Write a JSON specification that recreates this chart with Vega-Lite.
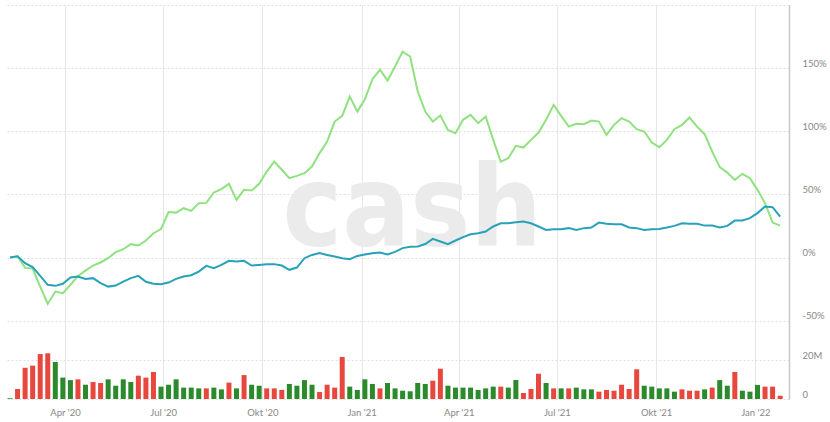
{
  "$schema": "https://vega.github.io/schema/vega-lite/v6.json",
  "width": 784,
  "height": 394,
  "autosize": {"type": "none"},
  "padding": {"left": 5, "top": 5, "right": 41, "bottom": 23},
  "background": "#ffffff",
  "data": {
    "values": [
      {"d": "2020-02-10", "g": 0, "t": 0, "v": 0.4, "dir": "up"},
      {"d": "2020-02-17", "g": 1, "t": 1, "v": 5.2, "dir": "down"},
      {"d": "2020-02-24", "g": -8.2, "t": -4.5, "v": 16.2, "dir": "down"},
      {"d": "2020-03-02", "g": -8.7, "t": -7.6, "v": 17.3, "dir": "down"},
      {"d": "2020-03-09", "g": -23, "t": -14.5, "v": 23.3, "dir": "down"},
      {"d": "2020-03-16", "g": -36.7, "t": -21.6, "v": 23.7, "dir": "down"},
      {"d": "2020-03-23", "g": -26.9, "t": -22.4, "v": 19.2, "dir": "up"},
      {"d": "2020-03-30", "g": -28.2, "t": -20.8, "v": 11.1, "dir": "up"},
      {"d": "2020-04-06", "g": -21.6, "t": -15.8, "v": 9.8, "dir": "up"},
      {"d": "2020-04-13", "g": -14.5, "t": -15, "v": 10.2, "dir": "down"},
      {"d": "2020-04-20", "g": -10.3, "t": -16.9, "v": 7.4, "dir": "up"},
      {"d": "2020-04-27", "g": -6.3, "t": -16.3, "v": 8.8, "dir": "down"},
      {"d": "2020-05-04", "g": -3.9, "t": -20.3, "v": 8.3, "dir": "down"},
      {"d": "2020-05-11", "g": -0.5, "t": -23, "v": 10.2, "dir": "up"},
      {"d": "2020-05-18", "g": 4.3, "t": -22.2, "v": 6.9, "dir": "up"},
      {"d": "2020-05-25", "g": 6.6, "t": -19, "v": 10.2, "dir": "up"},
      {"d": "2020-06-01", "g": 10.6, "t": -16.3, "v": 8.8, "dir": "up"},
      {"d": "2020-06-08", "g": 9.5, "t": -14.5, "v": 12.1, "dir": "down"},
      {"d": "2020-06-15", "g": 13.5, "t": -19.2, "v": 11.1, "dir": "down"},
      {"d": "2020-06-22", "g": 19.3, "t": -20.8, "v": 14, "dir": "down"},
      {"d": "2020-06-29", "g": 22.5, "t": -21.1, "v": 6.4, "dir": "up"},
      {"d": "2020-07-06", "g": 36, "t": -19.8, "v": 7.4, "dir": "up"},
      {"d": "2020-07-13", "g": 35.6, "t": -16.9, "v": 10.2, "dir": "up"},
      {"d": "2020-07-20", "g": 39.1, "t": -15, "v": 5.9, "dir": "up"},
      {"d": "2020-07-27", "g": 37, "t": -14, "v": 5.9, "dir": "up"},
      {"d": "2020-08-03", "g": 43.1, "t": -11.1, "v": 5.5, "dir": "up"},
      {"d": "2020-08-10", "g": 43.3, "t": -6.6, "v": 5.5, "dir": "down"},
      {"d": "2020-08-17", "g": 51.5, "t": -8.4, "v": 5.9, "dir": "up"},
      {"d": "2020-08-24", "g": 54.2, "t": -5.8, "v": 5, "dir": "up"},
      {"d": "2020-08-31", "g": 58.4, "t": -2.6, "v": 8.5, "dir": "down"},
      {"d": "2020-09-07", "g": 45.7, "t": -3.2, "v": 5.5, "dir": "up"},
      {"d": "2020-09-14", "g": 53.6, "t": -2.6, "v": 12.4, "dir": "down"},
      {"d": "2020-09-21", "g": 53.1, "t": -6.3, "v": 7.4, "dir": "up"},
      {"d": "2020-09-28", "g": 58.4, "t": -5.8, "v": 6.9, "dir": "up"},
      {"d": "2020-10-05", "g": 68.1, "t": -5.2, "v": 5.5, "dir": "down"},
      {"d": "2020-10-12", "g": 76, "t": -5.2, "v": 5.5, "dir": "down"},
      {"d": "2020-10-19", "g": 69.5, "t": -6.3, "v": 4.7, "dir": "down"},
      {"d": "2020-10-26", "g": 62.9, "t": -9.7, "v": 7.8, "dir": "up"},
      {"d": "2020-11-02", "g": 64.7, "t": -7.9, "v": 6.9, "dir": "up"},
      {"d": "2020-11-09", "g": 66.8, "t": -0.5, "v": 9.8, "dir": "up"},
      {"d": "2020-11-16", "g": 72.1, "t": 2.1, "v": 7.4, "dir": "up"},
      {"d": "2020-11-23", "g": 82.7, "t": 3.5, "v": 3.6, "dir": "down"},
      {"d": "2020-11-30", "g": 91.9, "t": 2.1, "v": 7.4, "dir": "down"},
      {"d": "2020-12-07", "g": 107.7, "t": 0.8, "v": 5.9, "dir": "down"},
      {"d": "2020-12-14", "g": 112.2, "t": -0.5, "v": 21.8, "dir": "down"},
      {"d": "2020-12-21", "g": 127.5, "t": -1.3, "v": 6.4, "dir": "up"},
      {"d": "2020-12-28", "g": 115.6, "t": 1.3, "v": 4.7, "dir": "up"},
      {"d": "2021-01-04", "g": 125.4, "t": 2.4, "v": 10.2, "dir": "up"},
      {"d": "2021-01-11", "g": 141.3, "t": 3.5, "v": 7.8, "dir": "up"},
      {"d": "2021-01-18", "g": 148.7, "t": 4, "v": 5.5, "dir": "down"},
      {"d": "2021-01-25", "g": 140.2, "t": 2.5, "v": 8.3, "dir": "up"},
      {"d": "2021-02-01", "g": 151.3, "t": 4.5, "v": 5.5, "dir": "up"},
      {"d": "2021-02-08", "g": 163.1, "t": 7.5, "v": 4.3, "dir": "up"},
      {"d": "2021-02-15", "g": 159.2, "t": 8.5, "v": 4, "dir": "up"},
      {"d": "2021-02-22", "g": 131.5, "t": 8.8, "v": 8.3, "dir": "up"},
      {"d": "2021-03-01", "g": 115.6, "t": 10.7, "v": 7.8, "dir": "up"},
      {"d": "2021-03-08", "g": 107.7, "t": 14.8, "v": 9.5, "dir": "down"},
      {"d": "2021-03-15", "g": 112.5, "t": 12.7, "v": 15.7, "dir": "down"},
      {"d": "2021-03-22", "g": 101.1, "t": 10.6, "v": 6.9, "dir": "up"},
      {"d": "2021-03-29", "g": 98.5, "t": 13.5, "v": 5.9, "dir": "up"},
      {"d": "2021-04-05", "g": 109.1, "t": 16.2, "v": 5.9, "dir": "up"},
      {"d": "2021-04-12", "g": 113, "t": 18.5, "v": 5.9, "dir": "up"},
      {"d": "2021-04-19", "g": 106.4, "t": 19.3, "v": 4.7, "dir": "up"},
      {"d": "2021-04-26", "g": 111.7, "t": 20.6, "v": 5.5, "dir": "up"},
      {"d": "2021-05-03", "g": 93.2, "t": 24.6, "v": 6.4, "dir": "up"},
      {"d": "2021-05-10", "g": 76, "t": 27.2, "v": 6.4, "dir": "down"},
      {"d": "2021-05-17", "g": 78.7, "t": 27.2, "v": 5.9, "dir": "up"},
      {"d": "2021-05-24", "g": 88.5, "t": 28, "v": 9.8, "dir": "up"},
      {"d": "2021-05-31", "g": 87.1, "t": 28.5, "v": 3.1, "dir": "down"},
      {"d": "2021-06-07", "g": 93.2, "t": 27.2, "v": 5.2, "dir": "down"},
      {"d": "2021-06-14", "g": 99, "t": 24.6, "v": 13.1, "dir": "down"},
      {"d": "2021-06-21", "g": 109.1, "t": 21.9, "v": 8.3, "dir": "up"},
      {"d": "2021-06-28", "g": 120.9, "t": 22.5, "v": 5.5, "dir": "down"},
      {"d": "2021-07-05", "g": 112.2, "t": 22.5, "v": 5.5, "dir": "up"},
      {"d": "2021-07-12", "g": 103.7, "t": 23.3, "v": 5.5, "dir": "down"},
      {"d": "2021-07-19", "g": 105.9, "t": 21.9, "v": 5.9, "dir": "up"},
      {"d": "2021-07-26", "g": 105.6, "t": 23.3, "v": 5, "dir": "up"},
      {"d": "2021-08-02", "g": 108.5, "t": 23.8, "v": 5, "dir": "up"},
      {"d": "2021-08-09", "g": 107.7, "t": 27.7, "v": 3.8, "dir": "down"},
      {"d": "2021-08-16", "g": 97.2, "t": 26.7, "v": 4.7, "dir": "down"},
      {"d": "2021-08-23", "g": 105.1, "t": 26.4, "v": 4.3, "dir": "down"},
      {"d": "2021-08-30", "g": 110.4, "t": 26.4, "v": 7.4, "dir": "down"},
      {"d": "2021-09-06", "g": 107.7, "t": 23.8, "v": 5.2, "dir": "down"},
      {"d": "2021-09-13", "g": 101.7, "t": 23.3, "v": 15.4, "dir": "down"},
      {"d": "2021-09-20", "g": 99.8, "t": 21.9, "v": 6.9, "dir": "up"},
      {"d": "2021-09-27", "g": 91.1, "t": 22.5, "v": 6.4, "dir": "up"},
      {"d": "2021-10-04", "g": 87.4, "t": 22.7, "v": 5.5, "dir": "up"},
      {"d": "2021-10-11", "g": 93.2, "t": 23.8, "v": 5.5, "dir": "up"},
      {"d": "2021-10-18", "g": 101.7, "t": 25.1, "v": 3.8, "dir": "up"},
      {"d": "2021-10-25", "g": 105.1, "t": 27.2, "v": 5, "dir": "down"},
      {"d": "2021-11-01", "g": 110.9, "t": 26.7, "v": 4.3, "dir": "down"},
      {"d": "2021-11-08", "g": 103.7, "t": 26.7, "v": 4.3, "dir": "down"},
      {"d": "2021-11-15", "g": 97.7, "t": 25.3, "v": 5, "dir": "up"},
      {"d": "2021-11-22", "g": 84, "t": 25.3, "v": 5.9, "dir": "down"},
      {"d": "2021-11-29", "g": 71.6, "t": 23.8, "v": 9.8, "dir": "up"},
      {"d": "2021-12-06", "g": 67.3, "t": 25.1, "v": 6.9, "dir": "up"},
      {"d": "2021-12-13", "g": 61.5, "t": 29.3, "v": 14, "dir": "down"},
      {"d": "2021-12-20", "g": 66.3, "t": 29.3, "v": 4.3, "dir": "up"},
      {"d": "2021-12-27", "g": 62.9, "t": 31.2, "v": 3.8, "dir": "up"},
      {"d": "2022-01-03", "g": 53.6, "t": 35.2, "v": 7.3, "dir": "up"},
      {"d": "2022-01-10", "g": 43.1, "t": 40.4, "v": 6.4, "dir": "down"},
      {"d": "2022-01-17", "g": 27.7, "t": 39.9, "v": 6.4, "dir": "down"},
      {"d": "2022-01-24", "g": 25.3, "t": 32.5, "v": 1.7, "dir": "down"}
    ]
  },
  "layer": [
    {
      "data": {"values": [{"label": "cash"}]},
      "mark": {
        "type": "text",
        "font": "'Liberation Sans Narrow', 'DejaVu Sans Condensed', 'DejaVu Sans', sans-serif",
        "fontWeight": "bold",
        "fontSize": 112,
        "color": "#ebebeb",
        "align": "center",
        "baseline": "alphabetic"
      },
      "encoding": {
        "x": {"datum": 1613520000000, "type": "temporal", "title": null, "scale": {"type": "utc", "domain": [1581292800000, 1643292000000]}},
        "y": {"datum": 10, "type": "quantitative", "scale": {"domain": [-112, 200], "nice": false, "zero": false}, "axis": null},
        "text": {"field": "label", "type": "nominal"}
      }
    },
    {
      "mark": {"type": "line", "color": "#8fe27f", "strokeWidth": 2},
      "encoding": {
        "x": {
          "field": "d",
          "type": "temporal",
          "scale": {"type": "utc", "domain": [1581292800000, 1643292000000]},
          "axis": {
            "title": null,
            "values": [1585699200000, 1593561600000, 1601510400000, 1609459200000, 1617235200000, 1625097600000, 1633046400000, 1640995200000],
            "labelExpr": "['Jan','Feb','Mär','Apr','Mai','Jun','Jul','Aug','Sep','Okt','Nov','Dez'][utcmonth(datum.value)] + \" '\" + utcFormat(datum.value, '%y')",
            "grid": true,
            "gridColor": "#e6e6e6",
            "ticks": false,
            "domain": false,
            "labelPadding": 8,
            "labelFlush": false,
            "labelOverlap": false
          }
        },
        "y": {
          "field": "g",
          "type": "quantitative",
          "scale": {"domain": [-112, 200], "nice": false, "zero": false},
          "axis": {
            "orient": "right",
            "title": null,
            "values": [-50, 0, 50, 100, 150, 200],
            "labelExpr": "datum.value == 200 ? '' : datum.value + '%'",
            "grid": true,
            "gridDash": [2, 2],
            "gridColor": "#e0e0e0",
            "ticks": false,
            "domain": true,
            "domainColor": "#c8c8c8",
            "domainWidth": 1.5,
            "labelAlign": "left",
            "labelPadding": 13,
            "labelBaseline": "alphabetic",
            "labelOffset": -2
          }
        }
      }
    },
    {
      "mark": {"type": "line", "color": "#27a2b8", "strokeWidth": 2},
      "encoding": {
        "x": {"field": "d", "type": "temporal", "title": null, "scale": {"type": "utc", "domain": [1581292800000, 1643292000000]}},
        "y": {"field": "t", "type": "quantitative", "scale": {"domain": [-112, 200], "nice": false, "zero": false}, "axis": null}
      }
    },
    {
      "mark": {"type": "bar", "size": 5},
      "encoding": {
        "x": {"field": "d", "type": "temporal", "title": null, "scale": {"type": "utc", "domain": [1581292800000, 1643292000000]}},
        "y": {
          "field": "v",
          "type": "quantitative",
          "scale": {"domain": [0, 204.3], "nice": false},
          "axis": {
            "orient": "right",
            "title": null,
            "values": [0, 20],
            "labelExpr": "datum.value == 0 ? '0' : datum.value + 'M'",
            "grid": true,
            "gridDash": [2, 2],
            "gridColor": "#e0e0e0",
            "ticks": false,
            "domain": false,
            "labelAlign": "left",
            "labelPadding": 13,
            "labelBaseline": "alphabetic",
            "labelOffset": -2
          }
        },
        "color": {
          "field": "dir",
          "type": "nominal",
          "scale": {"domain": ["down", "up"], "range": ["#e8473e", "#2a8a2c"]},
          "legend": null
        }
      }
    }
  ],
  "resolve": {"scale": {"y": "independent"}, "axis": {"y": "independent"}},
  "config": {
    "view": {"stroke": null},
    "axis": {
      "labelFont": "Lato",
      "labelFontSize": 9.5,
      "labelColor": "#888888"
    }
  }
}
